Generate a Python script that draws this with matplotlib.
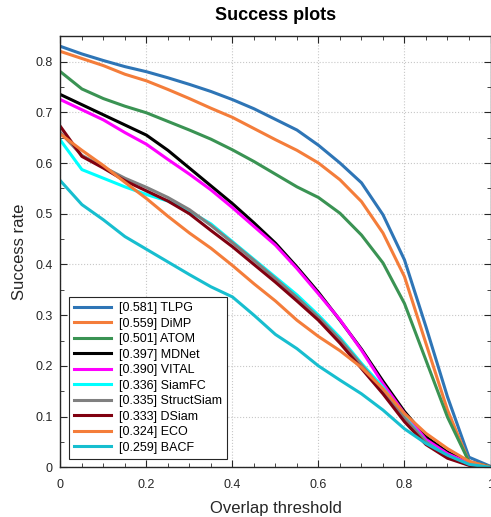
import numpy as np
import matplotlib
matplotlib.use('Agg')
from matplotlib import pyplot as plt
from matplotlib.ticker import MultipleLocator

plt.rcParams['font.family'] = ['Liberation Sans', 'DejaVu Sans']

# overlap thresholds 0, 0.05, ..., 1.0
thresholds = np.linspace(0, 1, 21)

tlpg = [0.830, 0.815, 0.802, 0.790, 0.780, 0.768, 0.755, 0.741, 0.725, 0.707, 0.686,
        0.665, 0.635, 0.600, 0.561, 0.498, 0.409, 0.277, 0.139, 0.020, 0.002]
dimp = [0.820, 0.806, 0.792, 0.775, 0.762, 0.745, 0.727, 0.708, 0.690, 0.668, 0.646,
        0.625, 0.600, 0.567, 0.524, 0.462, 0.376, 0.244, 0.113, 0.011, 0.001]
atom = [0.780, 0.746, 0.727, 0.712, 0.699, 0.682, 0.665, 0.647, 0.626, 0.603, 0.578,
        0.553, 0.532, 0.501, 0.458, 0.403, 0.323, 0.211, 0.099, 0.011, 0.001]
mdnet = [0.735, 0.715, 0.695, 0.675, 0.655, 0.625, 0.590, 0.555, 0.520, 0.482, 0.442,
         0.395, 0.345, 0.290, 0.233, 0.170, 0.110, 0.060, 0.030, 0.010, 0.000]
vital = [0.725, 0.705, 0.685, 0.660, 0.637, 0.607, 0.578, 0.547, 0.512, 0.475, 0.438,
         0.392, 0.342, 0.291, 0.231, 0.165, 0.106, 0.055, 0.027, 0.008, 0.000]
siamfc = [0.645, 0.587, 0.570, 0.553, 0.538, 0.525, 0.505, 0.480, 0.445, 0.410, 0.375,
          0.340, 0.300, 0.256, 0.205, 0.158, 0.100, 0.050, 0.022, 0.005, 0.000]
structsiam = [0.660, 0.615, 0.592, 0.570, 0.552, 0.532, 0.508, 0.477, 0.443, 0.408, 0.372,
              0.335, 0.296, 0.252, 0.202, 0.152, 0.097, 0.050, 0.020, 0.005, 0.000]
dsiam = [0.672, 0.613, 0.590, 0.565, 0.545, 0.525, 0.500, 0.467, 0.435, 0.400, 0.365,
         0.328, 0.290, 0.245, 0.195, 0.145, 0.090, 0.045, 0.018, 0.004, 0.000]
eco = [0.657, 0.625, 0.595, 0.562, 0.530, 0.495, 0.462, 0.432, 0.398, 0.362, 0.328,
       0.290, 0.258, 0.230, 0.197, 0.155, 0.106, 0.067, 0.037, 0.012, 0.000]
bacf = [0.565, 0.518, 0.488, 0.455, 0.430, 0.405, 0.380, 0.356, 0.336, 0.300, 0.262,
        0.234, 0.200, 0.172, 0.145, 0.113, 0.076, 0.047, 0.024, 0.006, 0.000]

names = ['TLPG', 'DiMP', 'ATOM', 'MDNet', 'VITAL', 'SiamFC', 'StructSiam', 'DSiam', 'ECO', 'BACF']
auc = ['0.581', '0.559', '0.501', '0.397', '0.390', '0.336', '0.335', '0.333', '0.324', '0.259']
series = [tlpg, dimp, atom, mdnet, vital, siamfc, structsiam, dsiam, eco, bacf]
colors = ['#2e75b6', '#f47d3a', '#3a9353', '#000000', '#ff00ff', '#00ffff',
          '#808080', '#800010', '#f47d3a', '#17becf']

fig = plt.figure(figsize=(4.91, 5.17), dpi=100)
ax = fig.add_axes([0.123, 0.096, 0.876, 0.834])

for ys, name, a, c in zip(series, names, auc, colors):
    ax.plot(thresholds, ys, color=c, lw=2.2, label=f'[{a}] {name}')

ax.set_xlim(0, 1)
ax.set_ylim(0, 0.85)
ax.xaxis.set_minor_locator(MultipleLocator(0.05))
ax.yaxis.set_minor_locator(MultipleLocator(0.05))
ax.set_xticks([0, 0.2, 0.4, 0.6, 0.8, 1.0])
ax.set_xticklabels(['0', '0.2', '0.4', '0.6', '0.8', '1'])
ax.set_yticks([0, 0.1, 0.2, 0.3, 0.4, 0.5, 0.6, 0.7, 0.8])
ax.set_yticklabels(['0', '0.1', '0.2', '0.3', '0.4', '0.5', '0.6', '0.7', '0.8'])
ax.tick_params(which='both', direction='in', top=True, right=True,
               labelsize=9, labelcolor='#262626', color='#262626')
ax.tick_params(which='major', length=5)
ax.tick_params(which='minor', length=3)
ax.tick_params(axis='x', which='major', pad=8.5)
ax.tick_params(axis='y', which='major', pad=5.5)
ax.grid(True, which='major', linestyle=':', color='#c8c8c8', lw=0.8)
for s in ax.spines.values():
    s.set_linewidth(1.0)
    s.set_color('#262626')

ax.set_xlabel('Overlap threshold', fontsize=12, color='#262626', labelpad=7)
ax.set_ylabel('Success rate', fontsize=12, color='#262626', labelpad=6)
ax.set_title('Success plots', fontsize=13, fontweight='bold', pad=12)

leg = ax.legend(loc='lower left', bbox_to_anchor=(0.02, 0.02), borderaxespad=0,
                fontsize=9, handlelength=3.0, labelspacing=0.28, fancybox=False,
                framealpha=1, edgecolor='#262626', borderpad=0.4, handletextpad=0.6)
leg.get_frame().set_linewidth(0.8)

fig.savefig('out.png', dpi=100)
